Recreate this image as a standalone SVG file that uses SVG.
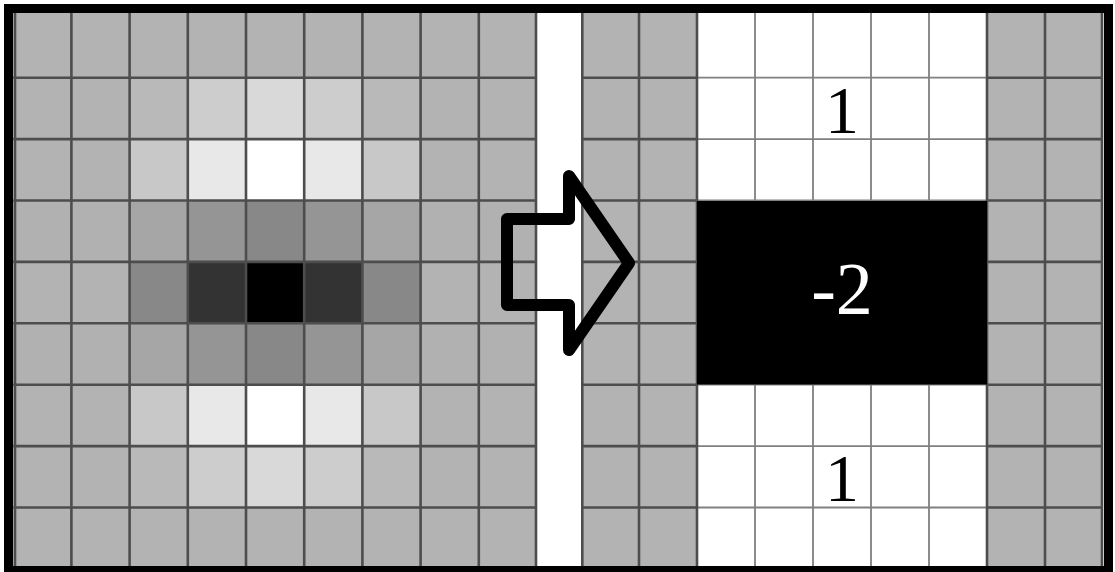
<svg xmlns="http://www.w3.org/2000/svg" width="1115" height="572" viewBox="0 0 1115 572">
<defs>
<style>
.g{fill:#b3b3b3}
.gl{fill:none;stroke:#4d4d4d;stroke-width:2.6}
.wl{fill:none;stroke:#808080;stroke-width:1.8}
.num{font-family:"Liberation Serif","Times New Roman",serif;text-anchor:middle}
</style>
</defs>
<rect x="0" y="0" width="1115" height="572" fill="#ffffff"/>
<g id="left-grid">
<rect x="13.2" y="13" width="523.8" height="555" fill="#b3b3b3"/>
<!-- row 1 -->
<rect x="129.6" y="77.7" width="58.2" height="61.4" fill="#b9b9b9"/>
<rect x="187.8" y="77.7" width="58.2" height="61.4" fill="#cdcdcd"/>
<rect x="246.0" y="77.7" width="58.2" height="61.4" fill="#d9d9d9"/>
<rect x="304.2" y="77.7" width="58.2" height="61.4" fill="#cdcdcd"/>
<rect x="362.4" y="77.7" width="58.2" height="61.4" fill="#b9b9b9"/>
<!-- row 2 -->
<rect x="129.6" y="139.1" width="58.2" height="61.4" fill="#c8c8c8"/>
<rect x="187.8" y="139.1" width="58.2" height="61.4" fill="#e8e8e8"/>
<rect x="246.0" y="139.1" width="58.2" height="61.4" fill="#ffffff"/>
<rect x="304.2" y="139.1" width="58.2" height="61.4" fill="#e8e8e8"/>
<rect x="362.4" y="139.1" width="58.2" height="61.4" fill="#c8c8c8"/>
<!-- row 3 -->
<rect x="13.2" y="200.5" width="523.8" height="61.4" fill="#b1b1b1"/>
<rect x="129.6" y="200.5" width="58.2" height="61.4" fill="#a6a6a6"/>
<rect x="187.8" y="200.5" width="58.2" height="61.4" fill="#959595"/>
<rect x="246.0" y="200.5" width="58.2" height="61.4" fill="#888888"/>
<rect x="304.2" y="200.5" width="58.2" height="61.4" fill="#959595"/>
<rect x="362.4" y="200.5" width="58.2" height="61.4" fill="#a6a6a6"/>
<!-- row 4 -->
<rect x="129.6" y="261.9" width="58.2" height="61.4" fill="#888888"/>
<rect x="187.8" y="261.9" width="58.2" height="61.4" fill="#333333"/>
<rect x="246.0" y="261.9" width="58.2" height="61.4" fill="#000000"/>
<rect x="304.2" y="261.9" width="58.2" height="61.4" fill="#333333"/>
<rect x="362.4" y="261.9" width="58.2" height="61.4" fill="#888888"/>
<!-- row 5 -->
<rect x="13.2" y="323.3" width="523.8" height="61.4" fill="#b1b1b1"/>
<rect x="129.6" y="323.3" width="58.2" height="61.4" fill="#a6a6a6"/>
<rect x="187.8" y="323.3" width="58.2" height="61.4" fill="#959595"/>
<rect x="246.0" y="323.3" width="58.2" height="61.4" fill="#888888"/>
<rect x="304.2" y="323.3" width="58.2" height="61.4" fill="#959595"/>
<rect x="362.4" y="323.3" width="58.2" height="61.4" fill="#a6a6a6"/>
<!-- row 6 -->
<rect x="129.6" y="384.7" width="58.2" height="61.4" fill="#c8c8c8"/>
<rect x="187.8" y="384.7" width="58.2" height="61.4" fill="#e8e8e8"/>
<rect x="246.0" y="384.7" width="58.2" height="61.4" fill="#ffffff"/>
<rect x="304.2" y="384.7" width="58.2" height="61.4" fill="#e8e8e8"/>
<rect x="362.4" y="384.7" width="58.2" height="61.4" fill="#c8c8c8"/>
<!-- row 7 -->
<rect x="129.6" y="446.1" width="58.2" height="61.4" fill="#b9b9b9"/>
<rect x="187.8" y="446.1" width="58.2" height="61.4" fill="#cdcdcd"/>
<rect x="246.0" y="446.1" width="58.2" height="61.4" fill="#d9d9d9"/>
<rect x="304.2" y="446.1" width="58.2" height="61.4" fill="#cdcdcd"/>
<rect x="362.4" y="446.1" width="58.2" height="61.4" fill="#b9b9b9"/>
<path class="gl" d="M15,13V568M71.4,13V568M129.6,13V568M187.8,13V568M246,13V568M304.2,13V568M362.4,13V568M420.6,13V568M478.8,13V568M536,13V568M13.2,77.7H537M13.2,139.1H537M13.2,200.5H537M13.2,261.9H537M13.2,323.3H537M13.2,384.7H537M13.2,446.1H537M13.2,507.5H537"/>
</g>
<g id="right-grid">
<rect x="581" y="13" width="116" height="555" class="g"/>
<rect x="987" y="13" width="116" height="555" class="g"/>
<path class="wl" d="M755,13V568M813,13V568M871,13V568M929,13V568M697,77.7H987M697,139.1H987M697,200.5H987M697,384.7H987M697,446.1H987M697,507.5H987"/>
<path class="gl" d="M582.3,13V568M639,13V568M697,13V568M987,13V568M1045,13V568M1102,13V568M581,77.7H697M581,139.1H697M581,200.5H697M581,261.9H697M581,323.3H697M581,384.7H697M581,446.1H697M581,507.5H697M987,77.7H1103M987,139.1H1103M987,200.5H1103M987,261.9H1103M987,323.3H1103M987,384.7H1103M987,446.1H1103M987,507.5H1103"/>
<rect x="697" y="201" width="290" height="183.5" fill="#000000"/>
<text class="num" x="842" y="133" font-size="68" fill="#000000">1</text>
<text class="num" x="842" y="314" font-size="74" fill="#ffffff">-2</text>
<text class="num" x="842" y="501" font-size="68" fill="#000000">1</text>
</g>
<g id="connectors">
<path d="M507,219 L569,219 L569,176 L629,263 L569,350 L569,305 L507,305 Z" fill="none" stroke="#000000" stroke-width="12" stroke-linejoin="round"/>
</g>
<g id="frame">
<rect x="8.5" y="8.5" width="1100" height="562" fill="none" stroke="#000000" stroke-width="9"/>
</g>
</svg>
